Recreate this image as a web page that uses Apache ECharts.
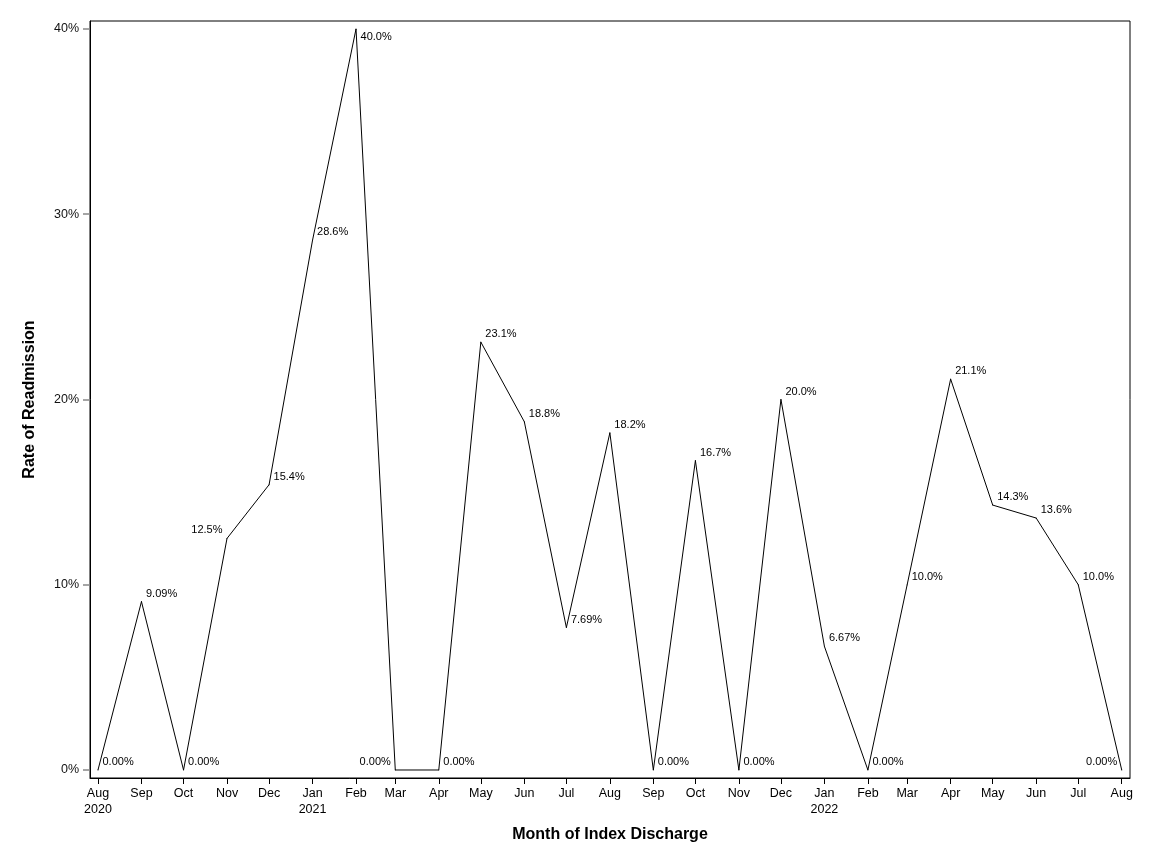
<!DOCTYPE html>
<html>
<head>
<meta charset="utf-8">
<script src="https://cdn.jsdelivr.net/npm/echarts@6/dist/echarts.min.js"></script>
<style>
  html, body { margin: 0; padding: 0; background: #fff; }
  #line { width: 1152px; height: 864px; }
</style>
</head>
<body>
<div id="line"></div>
<script>
// month of index discharge, Aug 2020 .. Aug 2022
const months = ['2020-08', '2020-09', '2020-10', '2020-11', '2020-12', '2021-01', '2021-02', '2021-03',
  '2021-04', '2021-05', '2021-06', '2021-07', '2021-08', '2021-09', '2021-10', '2021-11', '2021-12',
  '2022-01', '2022-02', '2022-03', '2022-04', '2022-05', '2022-06', '2022-07', '2022-08']
const monthNames = ['Jan', 'Feb', 'Mar', 'Apr', 'May', 'Jun', 'Jul', 'Aug', 'Sep', 'Oct', 'Nov', 'Dec']

// readmission rate, percent
const rates = [0, 9.09, 0, 12.5, 15.4, 28.6, 40.0, 0, 0, 23.1, 18.8, 7.69,
  18.2, 0, 16.7, 0, 20.0, 6.67, 0, 10.0, 21.1, 14.3, 13.6, 10.0, 0]

const yTicks = [0, 10, 20, 30, 40]

// which point labels sit left of / below the point
const leftLabels = [3, 7, 24]
const belowLabels = [6]

const font = 'Liberation Sans'
const DAY = 864e5

function toTime(s) {
  let [y, m] = s.split('-').map(Number)
  return Date.UTC(y, m - 1, 1)
}
const times = months.map(toTime)

let myChart = echarts.init(document.getElementById('line'))

let points = rates.map((v, i) => {
  let p = { value: [times[i], v] }
  if (leftLabels.includes(i)) p.label = { position: 'left' }
  return p
})

let opt = {
  backgroundColor: '#fff',
  animation: false,
  grid: {
    left: 90, right: 22, top: 21, bottom: 86,
    show: true, borderColor: '#000', borderWidth: 1
  },
  xAxis: {
    type: 'value',
    min: times[0] - 5.7 * DAY,
    max: times[times.length - 1] + 5.9 * DAY,
    name: 'Month of Index Discharge',
    nameLocation: 'middle',
    nameGap: 49,
    nameTextStyle: { fontFamily: font, fontWeight: 'bold', fontSize: 16, color: '#000' },
    splitLine: { show: false },
    axisLine: { onZero: false, lineStyle: { color: '#000' } },
    axisTick: {
      length: 6, lineStyle: { color: '#000' },
      customValues: times
    },
    axisLabel: {
      customValues: times,
      fontFamily: font, fontSize: 12.5, color: '#000', margin: 8, lineHeight: 16,
      formatter: v => {
        let d = new Date(v)
        let name = monthNames[d.getUTCMonth()]
        let i = times.indexOf(v)
        if (i === 0 || d.getUTCMonth() === 0) name += '\n' + d.getUTCFullYear()
        return name
      }
    }
  },
  yAxis: {
    type: 'value',
    min: -0.432,
    max: 40.43,
    name: 'Rate of Readmission',
    nameLocation: 'middle',
    nameGap: 52,
    nameTextStyle: { fontFamily: font, fontWeight: 'bold', fontSize: 16, color: '#000' },
    splitLine: { show: false },
    axisLine: { show: true, onZero: false, lineStyle: { color: '#000' } },
    axisTick: {
      show: true, length: 7, lineStyle: { color: '#888', width: 1.5 },
      customValues: yTicks
    },
    axisLabel: {
      customValues: yTicks,
      fontFamily: font, fontSize: 12.5, color: '#111', margin: 11,
      formatter: v => v + '%'
    }
  },
  series: [{
    type: 'line',
    data: points,
    symbol: 'circle',
    symbolSize: 1,
    showSymbol: true,
    itemStyle: { color: '#000' },
    lineStyle: { color: '#000', width: 1 },
    label: {
      show: true,
      position: 'right',
      distance: 4,
      fontFamily: font,
      fontSize: 11,
      color: '#000',
      formatter: p => p.value[1].toPrecision(3) + '%'
    },
    labelLayout: p => ({
      hideOverlap: false,
      dy: belowLabels.includes(p.dataIndex) ? 8 : -8
    })
  }]
}

myChart.setOption(opt)
</script>
</body>
</html>
